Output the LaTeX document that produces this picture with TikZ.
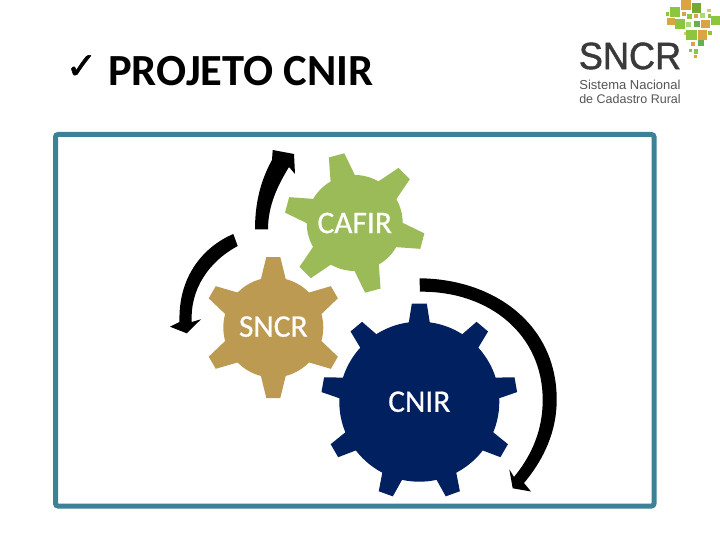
\documentclass[tikz,border=0pt]{standalone}
\usepackage{fontspec}
\setmainfont{Carlito}
\newfontfamily\checkfont[FakeBold=1.6]{DejaVu Sans}
\newfontfamily\logofont{Liberation Sans}
\newfontfamily\logobold[FakeBold=1.2]{Liberation Sans}
\newfontfamily\gearfont[FakeBold=0.6]{Carlito}
\definecolor{framecol}{HTML}{3B8299}
\definecolor{cafircol}{HTML}{9BBB59}
\definecolor{sncrcol}{HTML}{BD9A52}
\definecolor{cnircol}{HTML}{002060}
\definecolor{logodark}{HTML}{3A3A3A}
\definecolor{logogrey}{HTML}{555555}
\definecolor{lgreen}{HTML}{8CC63F}
\definecolor{lorange}{HTML}{D9A441}
\newcommand{\gearteeth}[8]{%
  \foreach \a [count=\i from 0] in {1,...,#3} {
    \pgfmathsetmacro{\ang}{#4+(\i*360/#3)}
    \begin{scope}[shift={(#1,#2)},rotate=\ang]
      \fill (#6,-#8) -- (#5,-#7) -- (#5,#7) -- (#6,#8) -- cycle;
    \end{scope}
  }%
}
\newcommand{\sq}[4]{\fill[#4] (#1-#3/2,#2-#3/2) rectangle (#1+#3/2,#2+#3/2);}
\tikzset{
  gearbody/.style={circle,inner sep=0pt,text=white,font=\gearfont\fontsize{31.5}{33}\selectfont},
  framebox/.style={draw=framecol,line width=5pt,rounded corners=2.5pt,fill=white},
  roundarrow/.style={fill=black}
}
\begin{document}
\begin{tikzpicture}[x=1pt,y=-1pt]
\useasboundingbox (0,0) rectangle (720,540);
\fill[white] (0,0) rectangle (720,540);
\draw[framebox] (55.5,134.5) rectangle (654,506);
% title
\node[anchor=center,inner sep=0pt] (tick) at (81.5,67) {\checkfont\fontsize{37}{39}\selectfont ✓};
\node[anchor=west,inner sep=0pt] (title) at (108,71) {\fontsize{44.5}{46}\selectfont\bfseries PROJETO CNIR};
% gears
\begin{scope}[cafircol]
\gearteeth{354.7}{223}{6}{105}{70}{44}{8}{13}
\end{scope}
\node[gearbody,fill=cafircol,minimum size=96pt] (cafir) at (354.7,223) {CAFIR};
\begin{scope}[sncrcol]
\gearteeth{273.3}{327.5}{6}{90}{70.5}{46}{7}{13}
\end{scope}
\node[gearbody,fill=sncrcol,minimum size=100pt] (sncr) at (273.3,327.5) {\raisebox{2pt}{SNCR}};
\begin{scope}[cnircol]
\gearteeth{419.3}{401.7}{9}{90}{98}{76}{7.5}{11}
\end{scope}
\node[gearbody,fill=cnircol,minimum size=160pt] (cnir) at (419.3,401.7) {CNIR};
% arrows
\fill[roundarrow] (255,229.5) .. controls (255,200) and (262,178) .. (272,160) -- (272.7,150) -- (294,154) -- (295,174) -- (289,167) .. controls (278,185) and (268,205) .. (268,229.5) -- cycle;
\fill[roundarrow] (233.3,234) .. controls (205,246) and (178,275) .. (179.5,322) -- (170,326.7) -- (186.7,333.3) -- (201,319.3) -- (191.7,322) .. controls (190,290) and (208,262) .. (237.7,246) -- cycle;
\fill[roundarrow] (419.5,278.3) .. controls (495,279) and (557,325) .. (556.7,400) .. controls (556.7,430) and (545,458) .. (524,483) -- (531,491.5) -- (512.7,488.3) -- (509.3,469.3) -- (514,477) .. controls (532,455) and (542.7,430) .. (542.7,400) .. controls (542.7,335) and (490,291) .. (420,291.7) -- cycle;
% logo
\begin{scope}[shift={(560,0)},x=0.3333pt,y=-0.3333pt]
\sq{378}{15}{30}{lorange}
\sq{345}{36}{28}{lgreen}
\sq{410}{24}{28}{lgreen!85!black}
\sq{322}{42}{10}{lgreen}
\sq{372}{42}{10}{lorange}
\sq{447}{32}{10}{lorange!70}
\sq{388}{50}{14}{lgreen}
\sq{408}{48}{14}{lorange}
\sq{428}{47}{14}{lgreen!70}
\sq{448}{48}{10}{lgreen}
\sq{466}{62}{26}{lgreen}
\sq{333}{65}{22}{lorange}
\sq{360}{72}{30}{lgreen}
\sq{385}{73}{14}{lgreen!70}
\sq{410}{73}{18}{lgreen!70!teal}
\sq{437}{72}{25}{lorange}
\sq{375}{100}{8}{lorange!70}
\sq{395}{105}{32}{lgreen}
\sq{428}{105}{28}{lorange}
\sq{450}{100}{12}{lgreen}
\sq{400}{132}{12}{lorange}
\sq{422}{130}{18}{lgreen!70!teal}
\sq{408}{155}{14}{lgreen}
\sq{392}{152}{8}{lgreen}
\sq{407}{170}{8}{lorange}
\end{scope}
\node[anchor=center,inner sep=0pt,text=logodark,xscale=0.95] (logoname) at (630,56) {\logobold\fontsize{38}{40}\selectfont SNCR};
\node[anchor=center,inner sep=0pt,text=logogrey] (logoline) at (630,84.5) {\logofont\fontsize{13}{14}\selectfont Sistema Nacional};
\node[anchor=center,inner sep=0pt,text=logogrey] (logolinetwo) at (630,99) {\logofont\fontsize{12.5}{14}\selectfont de Cadastro Rural};
\end{tikzpicture}
\end{document}
